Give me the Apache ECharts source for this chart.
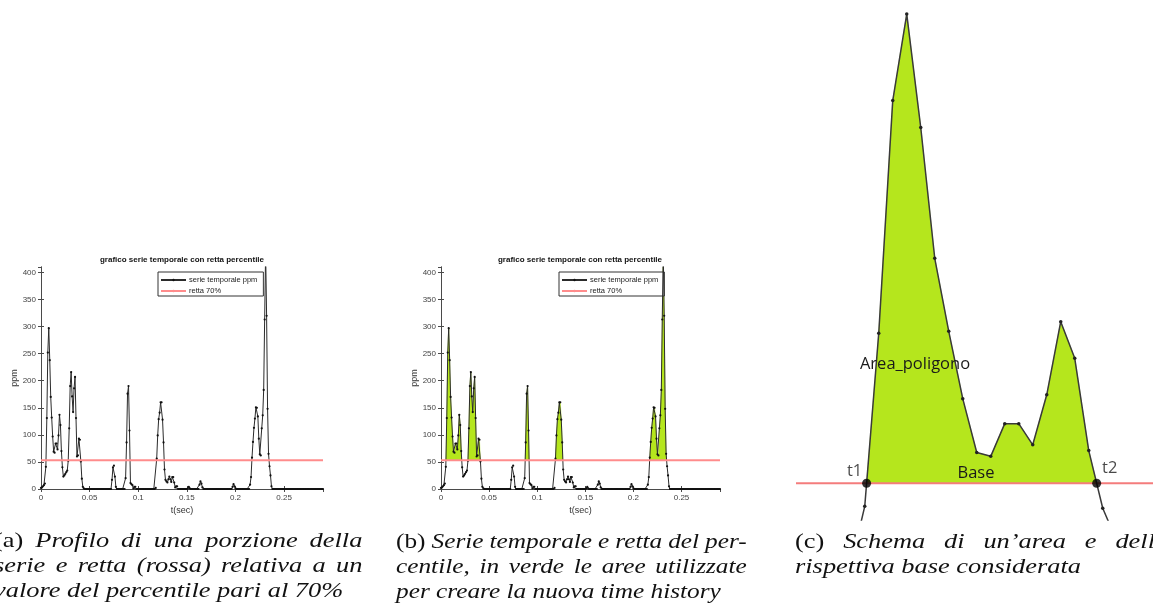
<!DOCTYPE html>
<html>
<head>
<meta charset="utf-8">
<script src="https://cdn.jsdelivr.net/npm/echarts@6/dist/echarts.min.js"></script>
<style>
  html, body { margin: 0; padding: 0; background: #fff; overflow: hidden; width: 1153px; height: 612px; }
  #chart { position: absolute; left: 0; top: 0; width: 1200px; height: 612px; }
  .cap { position: absolute; font-family: "Liberation Serif", "DejaVu Serif", serif; font-size: 22px; line-height: 25px; color: #111; transform: scaleX(1.2); transform-origin: 0 0; }
  .cap span.r { display: block; text-align: justify; text-align-last: justify; white-space: nowrap; word-spacing: -3.5px; }
  .cap span.end { text-align-last: left; word-spacing: 0; }
  .cap i { font-style: italic; }
  .cap.b { transform: scaleX(1.15); }
</style>
</head>
<body>
<div id="chart"></div>
<div class="cap" style="left:-6px; top:527px; width:307px;">
  <span class="r">(a) <i>Profilo di una porzione della</i></span>
  <span class="r"><i>serie e retta (rossa) relativa a un</i></span>
  <span class="r end"><i>valore del percentile pari al 70%</i></span>
</div>
<div class="cap b" style="left:396px; top:528px; width:305px;">
  <span class="r">(b) <i>Serie temporale e retta del per-</i></span>
  <span class="r"><i>centile, in verde le aree utilizzate</i></span>
  <span class="r end"><i>per creare la nuova time history</i></span>
</div>
<div class="cap" style="left:795px; top:528px; width:311px;">
  <span class="r">(c) <i>Schema di un’area e della</i></span>
  <span class="r end"><i>rispettiva base considerata</i></span>
</div>
<script>
// concentration samples (ppm), one every millisecond starting at t = 0
const passo = 0.001;
const ppm = [
  2, 3, 5, 7, 10, 41, 131, 252, 297, 238,
  170, 132, 97, 69, 67, 84, 84, 73, 99, 137,
  118, 70, 40, 23, 25, 28, 31, 34, 52, 112,
  190, 216, 171, 142, 186, 207, 131, 60, 62, 93,
  91, 51, 19, 4, 1, 0, 0, 0, 0, 0,
  0, 0, 0, 0, 0, 0, 0, 0, 0, 0,
  0, 0, 0, 0, 0, 0, 0, 0, 0, 0,
  0, 0, 0, 17, 40, 43, 23, 4, 0, 0,
  0, 0, 0, 0, 0, 0, 0, 20, 86, 176,
  190, 108, 11, 9, 7, 1, 4, 4, 0, 0,
  0, 0, 0, 0, 0, 0, 0, 0, 0, 0,
  0, 0, 0, 0, 0, 0, 0, 0, 2, 56,
  99, 129, 141, 160, 160, 128, 86, 36, 17, 14,
  12, 18, 23, 18, 13, 22, 22, 12, 3, 5,
  5, 0, 0, 0, 0, 0, 0, 0, 0, 0,
  0, 1, 4, 1, 0, 0, 0, 0, 0, 0,
  0, 0, 0, 8, 14, 10, 3, 0, 0, 0,
  0, 0, 0, 0, 0, 0, 0, 0, 0, 0,
  0, 0, 0, 0, 0, 0, 0, 0, 0, 0,
  0, 0, 0, 0, 0, 0, 0, 4, 9, 5,
  1, 0, 0, 0, 0, 0, 0, 0, 0, 0,
  0, 0, 0, 0, 0, 8, 22, 58, 87, 113,
  130, 151, 150, 134, 93, 64, 62, 112, 136, 183,
  313, 440, 320, 148, 65, 42, 25, 5, 0, 0,
  0, 0, 0, 0, 0, 0, 0, 0, 0, 0,
  0, 0, 0, 0, 0, 0, 0, 0, 0, 0,
  0, 0, 0, 0, 0, 0, 0, 0, 0, 0,
  0, 0, 0, 0, 0, 0, 0, 0, 0, 0,
  0, 0, 0, 0, 0, 0, 0, 0, 0, 0,
  0
];
// 70th percentile threshold (ppm)
const soglia70 = 53;
const tMax = 0.29;
const yMax = 410;
const xTicks = [0, 0.05, 0.1, 0.15, 0.2, 0.25];
const yTicks = [0, 50, 100, 150, 200, 250, 300, 350, 400];
const nomeSerie = 'serie temporale ppm';
const nomeRetta = 'retta 70%';
const titolo = 'grafico serie temporale con retta percentile';

const serie = ppm.map((v, i) => [i * passo, v]);

// regions above the threshold: each one starts and ends on the interpolated crossing
const regioni = [];
let corrente = null;
for (let i = 0; i < ppm.length; i++) {
  const v = ppm[i];
  if (i > 0) {
    const a = ppm[i - 1];
    if ((a - soglia70) * (v - soglia70) < 0) {
      const tc = (i - 1 + (soglia70 - a) / (v - a)) * passo;
      if (v > soglia70) {
        corrente = [[tc, soglia70]];
      } else if (corrente) {
        corrente.push([tc, soglia70]);
        regioni.push(corrente);
        corrente = null;
      }
    }
  }
  if (v > soglia70 && corrente) corrente.push([i * passo, v]);
}
// t1, t2 of the first polygon
const primo = regioni[0];
const incroci = [primo[0], primo[primo.length - 1]];

const verde = '#b5e61d';
const grigioAssi = '#4a4a4a';
const fontAssi = 'Arial, "Liberation Sans", sans-serif';
const fontNote = '"Open Sans", "Noto Sans", sans-serif';

const grids = [
  { left: 41, top: 267, width: 282, height: 222 },
  { left: 441, top: 267, width: 279, height: 222 },
  { left: 796, top: 0, width: 364, height: 520 }
];

function fmtX(v) {
  return xTicks.some(t => Math.abs(t - v) < 1e-9) ? String(+v.toFixed(2)) : '';
}
function fmtY(v) {
  return yTicks.indexOf(Math.round(v)) >= 0 ? String(Math.round(v)) : '';
}

function assiX(g, xmax) {
  return [
    {
      gridIndex: g, type: 'value', min: 0, max: xmax, interval: 0.05, position: 'bottom',
      axisLine: { show: true, lineStyle: { color: grigioAssi, width: 1 } },
      axisTick: { show: true, inside: true, length: 3, lineStyle: { color: grigioAssi } },
      axisLabel: { show: true, fontSize: 8, color: '#444', fontFamily: fontAssi, margin: 5, formatter: fmtX, showMaxLabel: false },
      splitLine: { show: false },
      name: 't(sec)', nameLocation: 'middle', nameGap: 17,
      nameTextStyle: { fontSize: 9, color: '#333', fontFamily: fontAssi }
    },
    {
      gridIndex: g, type: 'value', min: 0, max: xmax, interval: 0.05, position: 'top',
      axisLine: { show: true, lineStyle: { color: grigioAssi, width: 1 } },
      axisTick: { show: true, inside: true, length: 3, lineStyle: { color: grigioAssi } },
      axisLabel: { show: false }, splitLine: { show: false }
    }
  ];
}
function assiY(g) {
  return [
    {
      gridIndex: g, type: 'value', min: 0, max: yMax, interval: 50, position: 'left',
      axisLine: { show: true, lineStyle: { color: grigioAssi, width: 1 } },
      axisTick: { show: true, inside: true, length: 3, lineStyle: { color: grigioAssi } },
      axisLabel: { show: true, fontSize: 8, color: '#444', fontFamily: fontAssi, margin: 5, formatter: fmtY, showMaxLabel: false },
      splitLine: { show: false },
      name: 'ppm', nameLocation: 'middle', nameGap: 22, nameRotate: 90,
      nameTextStyle: { fontSize: 9, color: '#333', fontFamily: fontAssi }
    },
    {
      gridIndex: g, type: 'value', min: 0, max: yMax, interval: 50, position: 'right',
      axisLine: { show: true, lineStyle: { color: grigioAssi, width: 1 } },
      axisTick: { show: true, inside: true, length: 3, lineStyle: { color: grigioAssi } },
      axisLabel: { show: false }, splitLine: { show: false }
    }
  ];
}

const xAxes = [...assiX(0, tMax), ...assiX(1, tMax), {
  gridIndex: 2, type: 'value', min: 0.00009, max: 0.02609, show: false
}];
const yAxes = [...assiY(0), ...assiY(1), {
  gridIndex: 2, type: 'value', min: 33.9, max: 304.3, show: false
}];

function lineaSerie(xi, yi) {
  return {
    name: nomeSerie, type: 'line', xAxisIndex: xi, yAxisIndex: yi, data: serie,
    symbol: 'circle', symbolSize: 2.2, showSymbol: true, z: 4,
    lineStyle: { color: '#2b2b2b', width: 1 }, itemStyle: { color: '#111' },
    emphasis: { disabled: true }
  };
}
function lineaRetta(xi, yi, x0, x1, w, col) {
  return {
    name: nomeRetta, type: 'line', xAxisIndex: xi, yAxisIndex: yi,
    data: [[x0, soglia70], [x1, soglia70]], symbol: 'none', z: 5,
    lineStyle: { color: col, width: w }, itemStyle: { color: col },
    emphasis: { disabled: true }
  };
}
// green polygons between the curve and the threshold
function poligoni(xi, yi, elenco) {
  return {
    type: 'custom', xAxisIndex: xi, yAxisIndex: yi, clip: true, z: 2, silent: true,
    data: elenco.map(r => [r[0][0], soglia70]),
    renderItem: function (params, api) {
      const r = elenco[params.dataIndex];
      return {
        type: 'polygon',
        shape: { points: r.map(p => api.coord(p)) },
        style: { fill: verde, stroke: verde, lineWidth: 0.5 }
      };
    }
  };
}

function legenda(left) {
  return {
    left: left, top: 272, orient: 'vertical', itemWidth: 25, itemHeight: 3, itemGap: 3,
    padding: [4, 6, 1, 2], borderColor: '#333', borderWidth: 1, backgroundColor: '#fff',
    selectedMode: false, data: [nomeSerie, nomeRetta],
    textStyle: { fontSize: 7.5, color: '#222', fontFamily: fontAssi, padding: [0, 0, 0, -2] }
  };
}

const fontTitolo = 'bold 8px Arial, "Liberation Sans", sans-serif';

const option = {
  animation: false,
  grid: grids,
  xAxis: xAxes,
  yAxis: yAxes,
  legend: [legenda(158), legenda(559)],
  graphic: [
    { type: 'text', x: 182, y: 260, z: 50, style: { text: titolo, align: 'center', verticalAlign: 'middle', font: fontTitolo, fill: '#111' } },
    { type: 'text', x: 580, y: 260, z: 50, style: { text: titolo, align: 'center', verticalAlign: 'middle', font: fontTitolo, fill: '#111' } },
    { type: 'text', x: 915, y: 364, z: 50, style: { text: 'Area_poligono', align: 'center', verticalAlign: 'middle', font: '16.5px ' + fontNote, fill: '#1a1a1a' } },
    { type: 'text', x: 976, y: 473, z: 50, style: { text: 'Base', align: 'center', verticalAlign: 'middle', font: '16.5px ' + fontNote, fill: '#1a1a1a' } }
  ],
  series: [
    // (a)
    lineaSerie(0, 0),
    lineaRetta(0, 0, 0, tMax, 2, '#ff8c8c'),
    // (b)
    poligoni(2, 2, regioni),
    lineaSerie(2, 2),
    lineaRetta(2, 2, 0, tMax, 2, '#ff8c8c'),
    // (c) the first polygon, between t1 and t2
    poligoni(4, 4, [primo]),
    lineaRetta(4, 4, 0.00009, 0.02609, 2, '#f47c7c'),
    {
      type: 'line', xAxisIndex: 4, yAxisIndex: 4, data: serie, clip: true,
      symbol: 'circle', symbolSize: 3.5, z: 6,
      lineStyle: { color: '#3a3a3a', width: 1.5 }, itemStyle: { color: '#222' },
      emphasis: { disabled: true }
    },
    {
      type: 'scatter', xAxisIndex: 4, yAxisIndex: 4, z: 7,
      data: incroci.map((p, k) => ({ name: 't' + (k + 1), value: p })),
      symbolSize: 9, itemStyle: { color: '#000' },
      label: {
        show: true, position: 'top', distance: 0, formatter: '{b}',
        fontSize: 16.5, color: '#1a1a1a', fontFamily: fontNote
      },
      labelLayout: function (p) {
        return p.dataIndex === 0 ? { dx: -12, dy: 1 } : { dx: 13, dy: -2 };
      },
      emphasis: { disabled: true }
    }
  ]
};

const chart = echarts.init(document.getElementById('chart'), null, { renderer: 'canvas' });
chart.setOption(option);
</script>
</body>
</html>
